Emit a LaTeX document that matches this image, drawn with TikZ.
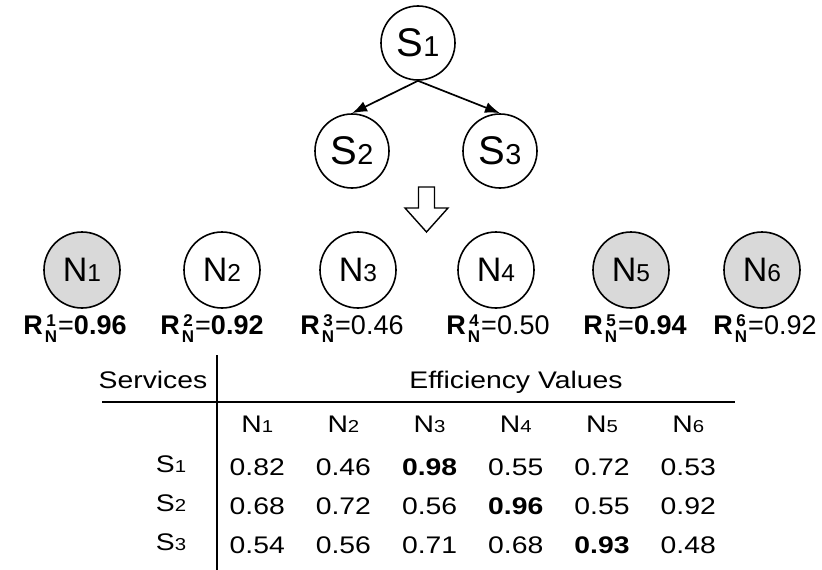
\documentclass[tikz,border=0pt]{standalone}
\usepackage{fontspec}
\setmainfont{Liberation Sans}
\newfontfamily\tabfont[FakeStretch=1.18]{Liberation Sans}
\usetikzlibrary{arrows.meta}
\newcommand{\subi}[2]{#1\scalebox{0.72}{#2}}
\newcommand{\scr}{\fontsize{17}{14}\selectfont\bfseries}
\newcommand{\rval}[2]{\textbf{R}\hspace{2pt}\raisebox{-8pt}{\scr\begin{tabular}[b]{@{}c@{}}#1\\N\end{tabular}}\hspace{1pt}=#2}

\begin{document}
\begin{tikzpicture}[x=1pt,y=-1pt,
  svc/.style={circle, draw, line width=1.6pt, minimum size=74pt, inner sep=0pt, font=\fontsize{40}{40}\selectfont},
  host/.style={circle, draw, line width=1.6pt, minimum size=76pt, inner sep=0pt, font=\fontsize{34}{34}\selectfont},
  busy/.style={host, fill=black!15},
  rlab/.style={anchor=base, inner sep=0pt, font=\fontsize{27}{27}\selectfont},
  cell/.style={anchor=base, inner sep=1pt, font=\tabfont\fontsize{24}{28}\selectfont},
  link/.style={-{Latex[length=15pt,width=11pt]}, line width=1.7pt}]
\useasboundingbox (0,0) rectangle (822,570);

% Service graph
\node[svc] (s1) at (418,43) {\subi{S}{1}};
\node[svc] (s2) at (352,151) {\subi{S}{2}};
\node[svc] (s3) at (500,151) {\subi{S}{3}};
\draw[link] (s1.south) -- (s2.north);
\draw[link] (s1.south) -- (s3.north);

% Hollow arrow
\coordinate (dn) at (426.5,187);
\draw[line width=1.4pt] (dn) ++(-8,0) -- ++(0,21) -- ++(-13.5,0) -- ++(21.5,24)
  -- ++(21.5,-24) -- ++(-13.5,0) -- ++(0,-21) -- cycle;

% Nodes with reliabilities
\node[busy] (n1) at (82,270) {\subi{N}{1}};
\node[host] (n2) at (222,270) {\subi{N}{2}};
\node[host] (n3) at (358,270) {\subi{N}{3}};
\node[host] (n4) at (496,270) {\subi{N}{4}};
\node[busy] (n5) at (631,270) {\subi{N}{5}};
\node[busy] (n6) at (762,270) {\subi{N}{6}};
\node[rlab] (rn1) at (75,334) {\rval{1}{\textbf{0.96}}};
\node[rlab] (rn2) at (212,334) {\rval{2}{\textbf{0.92}}};
\node[rlab] (rn3) at (352,334) {\rval{3}{0.46}};
\node[rlab] (rn4) at (498,334) {\rval{4}{0.50}};
\node[rlab] (rn5) at (635,334) {\rval{5}{\textbf{0.94}}};
\node[rlab] (rn6) at (765,334) {\rval{6}{0.92}};

% Efficiency table
\draw[line width=1.6pt] (217,355) -- (217,570);
\draw[line width=1.6pt] (102,402) -- (735,402);
\node[cell] (svchead) at (153,388) {Services};
\node[cell] (effhead) at (516,388) {Efficiency Values};
\foreach \i in {1,...,6}
  \node[cell] (h\i) at (171+86.2*\i,432) {\subi{N}{\i}};
\foreach \i/\y in {1/472,2/511,3/550}
  \node[cell] (row\i) at (171,\y) {\subi{S}{\i}};
\foreach \v [count=\i] in {0.82,0.46,\textbf{0.98},0.55,0.72,0.53}
  \node[cell] (va\i) at (171+86.2*\i,475) {\v};
\foreach \v [count=\i] in {0.68,0.72,0.56,\textbf{0.96},0.55,0.92}
  \node[cell] (vb\i) at (171+86.2*\i,514) {\v};
\foreach \v [count=\i] in {0.54,0.56,0.71,0.68,\textbf{0.93},0.48}
  \node[cell] (vc\i) at (171+86.2*\i,553) {\v};
\end{tikzpicture}
\end{document}
